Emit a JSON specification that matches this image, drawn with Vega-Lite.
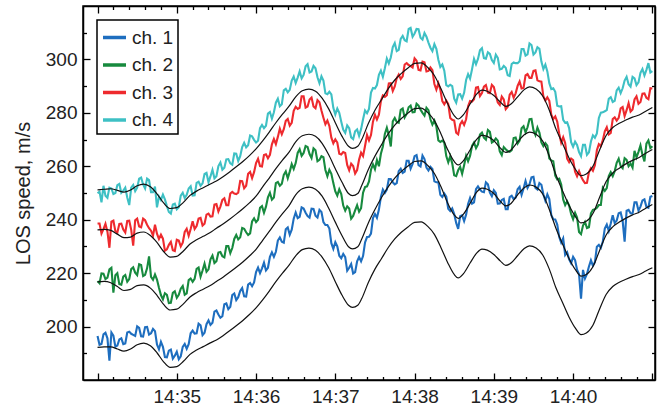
{
"$schema": "https://vega.github.io/schema/vega-lite/v6.json",
"width": 572, "height": 374,
"autosize": {"type": "none"},
"padding": {"left": 83, "top": 6, "right": 2, "bottom": 27},
"config": {
  "view": {"stroke": "black", "strokeWidth": 1.5},
  "font": "Liberation Sans",
  "axis": {"domainColor": "black", "domainWidth": 1.5, "tickColor": "black", "tickWidth": 1.3, "labelColor": "#222", "labelFontSize": 19, "labelFont": "Liberation Sans", "grid": false, "titleFontWeight": "normal", "titleFont": "Liberation Sans", "titleColor": "#222", "labelOverlap": false, "labelFlush": false},
  "legend": {"strokeColor": "black", "strokeWidth": 1.5, "fillColor": "white"}
},
"datasets": {
"raw": [
{"t":0,"c1":196.5,"c2":217.0,"c3":238.6,"c4":249.9},
{"t":3,"c1":193.5,"c2":219.9,"c3":234.8,"c4":246.5},
{"t":6,"c1":197.7,"c2":217.8,"c3":238.5,"c4":249.0},
{"t":9,"c1":187.2,"c2":221.4,"c3":229.5,"c4":252.0},
{"t":12,"c1":196.6,"c2":212.7,"c3":239.7,"c4":249.6},
{"t":15,"c1":192.9,"c2":220.0,"c3":235.2,"c4":252.9},
{"t":18,"c1":195.6,"c2":215.7,"c3":238.5,"c4":250.1},
{"t":21,"c1":193.7,"c2":219.3,"c3":235.2,"c4":252.0},
{"t":24,"c1":198.1,"c2":217.8,"c3":239.6,"c4":245.5},
{"t":27,"c1":196.9,"c2":222.2,"c3":230.3,"c4":253.0},
{"t":30,"c1":200.1,"c2":219.3,"c3":240.4,"c4":252.0},
{"t":33,"c1":196.4,"c2":223.0,"c3":237.2,"c4":255.8},
{"t":36,"c1":199.8,"c2":219.4,"c3":239.8,"c4":251.7},
{"t":39,"c1":197.0,"c2":226.3,"c3":236.8,"c4":254.8},
{"t":42,"c1":199.1,"c2":217.5,"c3":234.0,"c4":250.3},
{"t":45,"c1":193.3,"c2":217.6,"c3":234.8,"c4":244.6},
{"t":48,"c1":194.3,"c2":211.8,"c3":234.4,"c4":247.4},
{"t":51,"c1":188.6,"c2":212.5,"c3":228.4,"c4":247.6},
{"t":54,"c1":191.0,"c2":208.8,"c3":230.6,"c4":242.9},
{"t":57,"c1":188.0,"c2":212.6,"c3":228.6,"c4":245.7},
{"t":60,"c1":190.6,"c2":210.8,"c3":232.5,"c4":243.9},
{"t":63,"c1":188.9,"c2":214.2,"c3":230.0,"c4":249.0},
{"t":66,"c1":193.5,"c2":211.9,"c3":235.4,"c4":248.1},
{"t":69,"c1":193.4,"c2":217.4,"c3":234.0,"c4":251.7},
{"t":72,"c1":198.5,"c2":216.8,"c3":239.4,"c4":249.0},
{"t":75,"c1":197.5,"c2":221.6,"c3":237.6,"c4":253.8},
{"t":78,"c1":200.5,"c2":218.7,"c3":240.7,"c4":252.7},
{"t":81,"c1":197.7,"c2":223.6,"c3":238.5,"c4":257.1},
{"t":84,"c1":202.3,"c2":221.4,"c3":242.3,"c4":254.0},
{"t":87,"c1":201.4,"c2":226.6,"c3":241.3,"c4":258.7},
{"t":90,"c1":206.0,"c2":224.5,"c3":245.9,"c4":256.3},
{"t":93,"c1":203.3,"c2":227.9,"c3":244.9,"c4":261.4},
{"t":96,"c1":208.4,"c2":225.9,"c3":248.0,"c4":259.5},
{"t":99,"c1":206.5,"c2":230.1,"c3":245.4,"c4":262.7},
{"t":102,"c1":211.8,"c2":229.4,"c3":250.4,"c4":260.6},
{"t":105,"c1":209.9,"c2":234.3,"c3":249.6,"c4":264.7},
{"t":108,"c1":213.3,"c2":233.4,"c3":254.5,"c4":263.8},
{"t":111,"c1":211.3,"c2":236.6,"c3":251.8,"c4":268.8},
{"t":114,"c1":215.7,"c2":234.3,"c3":257.2,"c4":267.9},
{"t":117,"c1":215.1,"c2":239.4,"c3":255.6,"c4":271.2},
{"t":120,"c1":220.4,"c2":239.1,"c3":261.2,"c4":268.9},
{"t":123,"c1":220.0,"c2":244.5,"c3":260.1,"c4":274.3},
{"t":126,"c1":223.9,"c2":242.6,"c3":264.2,"c4":274.3},
{"t":129,"c1":222.0,"c2":248.4,"c3":263.0,"c4":279.7},
{"t":132,"c1":227.8,"c2":247.5,"c3":268.2,"c4":277.8},
{"t":135,"c1":228.0,"c2":253.7,"c3":268.3,"c4":283.8},
{"t":138,"c1":233.4,"c2":252.7,"c3":274.1,"c4":282.5},
{"t":141,"c1":231.4,"c2":256.8,"c3":273.9,"c4":288.4},
{"t":144,"c1":237.1,"c2":255.5,"c3":277.7,"c4":287.7},
{"t":147,"c1":236.3,"c2":260.8,"c3":276.3,"c4":292.1},
{"t":150,"c1":242.7,"c2":261.2,"c3":282.3,"c4":291.2},
{"t":153,"c1":241.1,"c2":266.4,"c3":281.9,"c4":295.5},
{"t":156,"c1":244.2,"c2":265.0,"c3":286.2,"c4":294.2},
{"t":159,"c1":241.4,"c2":267.2,"c3":282.4,"c4":298.2},
{"t":162,"c1":244.1,"c2":263.1,"c3":285.7,"c4":295.5},
{"t":165,"c1":241.5,"c2":266.0,"c3":281.7,"c4":296.7},
{"t":168,"c1":243.7,"c2":262.4,"c3":284.0,"c4":291.1},
{"t":171,"c1":239.1,"c2":263.4,"c3":278.2,"c4":292.1},
{"t":174,"c1":238.0,"c2":256.3,"c3":277.1,"c4":287.0},
{"t":177,"c1":231.2,"c2":257.2,"c3":270.7,"c4":286.9},
{"t":180,"c1":231.6,"c2":250.6,"c3":270.1,"c4":279.4},
{"t":183,"c1":226.5,"c2":251.4,"c3":264.7,"c4":280.0},
{"t":186,"c1":227.2,"c2":245.3,"c3":265.3,"c4":273.7},
{"t":189,"c1":220.9,"c2":245.0,"c3":260.5,"c4":275.3},
{"t":192,"c1":223.4,"c2":240.4,"c3":261.0,"c4":270.8},
{"t":195,"c1":220.4,"c2":243.5,"c3":257.3,"c4":273.1},
{"t":198,"c1":226.0,"c2":243.0,"c3":262.5,"c4":271.4},
{"t":201,"c1":226.4,"c2":250.1,"c3":263.8,"c4":277.6},
{"t":204,"c1":233.5,"c2":252.5,"c3":271.7,"c4":279.9},
{"t":207,"c1":234.8,"c2":258.7,"c3":271.7,"c4":287.6},
{"t":210,"c1":242.1,"c2":258.9,"c3":279.3,"c4":289.1},
{"t":213,"c1":243.8,"c2":260.0,"c3":279.3,"c4":294.2},
{"t":216,"c1":251.3,"c2":267.4,"c3":286.5,"c4":293.5},
{"t":219,"c1":251.3,"c2":274.4,"c3":286.6,"c4":300.3},
{"t":222,"c1":255.2,"c2":267.4,"c3":291.1,"c4":300.7},
{"t":225,"c1":253.2,"c2":278.1,"c3":289.9,"c4":306.1},
{"t":228,"c1":258.2,"c2":276.3,"c3":294.3,"c4":303.6},
{"t":231,"c1":257.5,"c2":281.6,"c3":293.7,"c4":308.8},
{"t":234,"c1":262.1,"c2":279.6,"c3":298.6,"c4":306.8},
{"t":237,"c1":259.1,"c2":282.7,"c3":297.5,"c4":311.8},
{"t":240,"c1":263.8,"c2":280.3,"c3":300.4,"c4":309.7},
{"t":243,"c1":260.4,"c2":282.7,"c3":296.1,"c4":311.3},
{"t":246,"c1":264.0,"c2":280.0,"c3":299.2,"c4":307.4},
{"t":249,"c1":259.5,"c2":281.9,"c3":295.5,"c4":308.5},
{"t":252,"c1":259.8,"c2":277.6,"c3":297.0,"c4":304.4},
{"t":255,"c1":254.4,"c2":277.1,"c3":290.8,"c4":305.7},
{"t":258,"c1":254.0,"c2":269.7,"c3":291.1,"c4":299.9},
{"t":261,"c1":248.5,"c2":269.6,"c3":284.4,"c4":298.1},
{"t":264,"c1":248.6,"c2":263.8,"c3":284.6,"c4":290.4},
{"t":267,"c1":243.2,"c2":263.8,"c3":278.1,"c4":290.5},
{"t":270,"c1":242.1,"c2":256.6,"c3":277.1,"c4":285.3},
{"t":273,"c1":236.6,"c2":258.5,"c3":272.0,"c4":286.9},
{"t":276,"c1":241.7,"c2":257.2,"c3":276.9,"c4":285.3},
{"t":279,"c1":241.9,"c2":263.9,"c3":277.6,"c4":292.3},
{"t":282,"c1":248.1,"c2":263.9,"c3":284.4,"c4":292.8},
{"t":285,"c1":246.5,"c2":268.9,"c3":285.1,"c4":300.2},
{"t":288,"c1":252.5,"c2":268.2,"c3":289.7,"c4":300.2},
{"t":291,"c1":250.5,"c2":272.6,"c3":287.4,"c4":304.2},
{"t":294,"c1":254.0,"c2":270.0,"c3":290.4,"c4":300.3},
{"t":297,"c1":250.1,"c2":272.9,"c3":287.4,"c4":302.1},
{"t":300,"c1":251.0,"c2":269.4,"c3":289.7,"c4":298.7},
{"t":303,"c1":246.0,"c2":269.6,"c3":283.9,"c4":300.6},
{"t":306,"c1":247.4,"c2":264.2,"c3":286.1,"c4":296.5},
{"t":309,"c1":243.9,"c2":266.4,"c3":281.4,"c4":296.9},
{"t":312,"c1":248.5,"c2":265.4,"c3":286.8,"c4":293.8},
{"t":315,"c1":247.7,"c2":270.6,"c3":285.7,"c4":298.9},
{"t":318,"c1":251.4,"c2":268.5,"c3":290.1,"c4":298.6},
{"t":321,"c1":249.3,"c2":274.2,"c3":289.1,"c4":303.9},
{"t":324,"c1":254.5,"c2":272.7,"c3":294.0,"c4":301.4},
{"t":327,"c1":253.3,"c2":277.6,"c3":293.1,"c4":306.0},
{"t":330,"c1":256.1,"c2":273.5,"c3":295.7,"c4":301.8},
{"t":333,"c1":251.3,"c2":274.5,"c3":292.2,"c4":304.6},
{"t":336,"c1":253.1,"c2":268.9,"c3":291.7,"c4":299.2},
{"t":339,"c1":247.1,"c2":268.7,"c3":284.6,"c4":298.1},
{"t":342,"c1":247.7,"c2":262.9,"c3":284.5,"c4":291.1},
{"t":345,"c1":240.2,"c2":261.9,"c3":277.7,"c4":289.2},
{"t":348,"c1":238.2,"c2":255.1,"c3":276.7,"c4":282.7},
{"t":351,"c1":231.4,"c2":253.2,"c3":268.8,"c4":282.5},
{"t":354,"c1":226.8,"c2":245.5,"c3":268.7,"c4":276.3},
{"t":357,"c1":225.2,"c2":245.3,"c3":261.6,"c4":274.3},
{"t":360,"c1":226.1,"c2":240.2,"c3":262.3,"c4":267.3},
{"t":363,"c1":221.3,"c2":240.8,"c3":256.3,"c4":268.0},
{"t":366,"c1":210.4,"c2":234.6,"c3":256.2,"c4":263.8},
{"t":369,"c1":218.0,"c2":239.2,"c3":253.7,"c4":268.0},
{"t":372,"c1":222.5,"c2":237.2,"c3":257.8,"c4":265.2},
{"t":375,"c1":222.8,"c2":243.7,"c3":258.3,"c4":271.6},
{"t":378,"c1":229.9,"c2":244.5,"c3":266.0,"c4":272.3},
{"t":381,"c1":229.5,"c2":245.5,"c3":267.6,"c4":280.1},
{"t":384,"c1":236.7,"c2":250.8,"c3":273.1,"c4":280.6},
{"t":387,"c1":235.8,"c2":256.3,"c3":271.9,"c4":285.3},
{"t":390,"c1":241.7,"c2":256.3,"c3":277.7,"c4":284.1},
{"t":393,"c1":239.7,"c2":261.3,"c3":277.1,"c4":288.4},
{"t":396,"c1":242.7,"c2":260.1,"c3":281.7,"c4":287.4},
{"t":399,"c1":231.8,"c2":263.0,"c3":278.8,"c4":292.1},
{"t":402,"c1":243.7,"c2":260.0,"c3":283.6,"c4":290.7},
{"t":405,"c1":242.3,"c2":259.5,"c3":281.3,"c4":293.5},
{"t":408,"c1":246.5,"c2":263.3,"c3":286.2,"c4":290.4},
{"t":411,"c1":244.9,"c2":267.8,"c3":284.1,"c4":295.0},
{"t":414,"c1":247.6,"c2":261.8,"c3":287.3,"c4":294.0},
{"t":417,"c1":244.5,"c2":269.7,"c3":285.1,"c4":298.6},
{"t":420,"c1":248.9,"c2":267.5,"c3":289.1,"c4":295.6},
{"t":1.5,"c1":193.2,"c2":216.2,"c3":238.6,"c4":250.5},
{"t":4.5,"c1":197.1,"c2":219.8,"c3":236.5,"c4":252.7},
{"t":7.5,"c1":195.6,"c2":218.3,"c3":235.5,"c4":248.2},
{"t":10.5,"c1":197.8,"c2":222.0,"c3":239.3,"c4":251.7},
{"t":13.5,"c1":192.5,"c2":219.2,"c3":235.7,"c4":250.0},
{"t":16.5,"c1":195.2,"c2":215.9,"c3":238.4,"c4":253.4},
{"t":19.5,"c1":193.4,"c2":218.7,"c3":236.3,"c4":250.9},
{"t":22.5,"c1":197.8,"c2":216.8,"c3":239.5,"c4":248.3},
{"t":25.5,"c1":197.3,"c2":221.5,"c3":236.2,"c4":252.0},
{"t":28.5,"c1":196.5,"c2":220.2,"c3":239.8,"c4":250.7},
{"t":31.5,"c1":199.5,"c2":223.3,"c3":237.5,"c4":255.4},
{"t":34.5,"c1":196.3,"c2":218.9,"c3":240.4,"c4":253.2},
{"t":37.5,"c1":199.9,"c2":221.8,"c3":238.1,"c4":255.4},
{"t":40.5,"c1":197.5,"c2":218.6,"c3":235.9,"c4":250.3},
{"t":43.5,"c1":198.3,"c2":219.5,"c3":238.1,"c4":252.4},
{"t":46.5,"c1":191.5,"c2":214.5,"c3":232.8,"c4":248.7},
{"t":49.5,"c1":192.4,"c2":210.2,"c3":232.9,"c4":249.4},
{"t":52.5,"c1":188.5,"c2":211.9,"c3":228.9,"c4":245.1},
{"t":55.5,"c1":191.4,"c2":208.9,"c3":231.7,"c4":242.3},
{"t":58.5,"c1":189.1,"c2":213.2,"c3":228.3,"c4":246.0},
{"t":61.5,"c1":187.8,"c2":211.9,"c3":232.2,"c4":244.7},
{"t":64.5,"c1":192.4,"c2":215.2,"c3":231.4,"c4":250.1},
{"t":67.5,"c1":191.7,"c2":212.4,"c3":236.6,"c4":249.3},
{"t":70.5,"c1":197.5,"c2":218.0,"c3":236.5,"c4":252.5},
{"t":73.5,"c1":197.4,"c2":217.9,"c3":236.5,"c4":249.1},
{"t":76.5,"c1":201.1,"c2":222.1,"c3":240.4,"c4":254.2},
{"t":79.5,"c1":196.8,"c2":221.0,"c3":237.8,"c4":253.6},
{"t":82.5,"c1":200.9,"c2":220.5,"c3":241.9,"c4":257.5},
{"t":85.5,"c1":200.6,"c2":225.2,"c3":241.2,"c4":256.2},
{"t":88.5,"c1":205.6,"c2":223.8,"c3":245.7,"c4":255.5},
{"t":91.5,"c1":204.5,"c2":227.7,"c3":243.1,"c4":260.1},
{"t":94.5,"c1":203.9,"c2":226.3,"c3":247.4,"c4":258.7},
{"t":97.5,"c1":208.7,"c2":230.1,"c3":245.4,"c4":262.6},
{"t":100.5,"c1":207.4,"c2":227.5,"c3":249.8,"c4":261.1},
{"t":103.5,"c1":212.4,"c2":232.8,"c3":249.8,"c4":264.8},
{"t":106.5,"c1":211.0,"c2":232.6,"c3":250.1,"c4":262.0},
{"t":109.5,"c1":214.4,"c2":236.9,"c3":254.4,"c4":267.2},
{"t":112.5,"c1":211.2,"c2":235.3,"c3":252.7,"c4":267.1},
{"t":115.5,"c1":216.3,"c2":234.9,"c3":257.9,"c4":271.5},
{"t":118.5,"c1":216.5,"c2":240.5,"c3":257.8,"c4":269.9},
{"t":121.5,"c1":222.1,"c2":240.0,"c3":262.8,"c4":269.6},
{"t":124.5,"c1":221.8,"c2":245.1,"c3":259.9,"c4":275.5},
{"t":127.5,"c1":221.0,"c2":244.9,"c3":264.5,"c4":275.2},
{"t":130.5,"c1":226.1,"c2":250.1,"c3":264.3,"c4":280.3},
{"t":133.5,"c1":226.1,"c2":248.3,"c3":270.2,"c4":280.2},
{"t":136.5,"c1":232.2,"c2":254.1,"c3":271.0,"c4":285.3},
{"t":139.5,"c1":231.8,"c2":253.5,"c3":272.0,"c4":283.2},
{"t":142.5,"c1":236.4,"c2":258.1,"c3":277.0,"c4":289.0},
{"t":145.5,"c1":234.4,"c2":258.0,"c3":275.2,"c4":288.6},
{"t":148.5,"c1":240.4,"c2":259.0,"c3":280.8,"c4":293.6},
{"t":151.5,"c1":240.6,"c2":265.0,"c3":281.5,"c4":293.2},
{"t":154.5,"c1":244.6,"c2":263.9,"c3":286.2,"c4":292.9},
{"t":157.5,"c1":242.6,"c2":267.6,"c3":282.0,"c4":297.4},
{"t":160.5,"c1":240.8,"c2":264.6,"c3":285.0,"c4":295.1},
{"t":163.5,"c1":244.0,"c2":266.7,"c3":282.4,"c4":297.6},
{"t":166.5,"c1":240.8,"c2":261.9,"c3":284.8,"c4":293.3},
{"t":169.5,"c1":242.9,"c2":263.8,"c3":280.9,"c4":293.7},
{"t":172.5,"c1":238.0,"c2":258.6,"c3":275.7,"c4":287.3},
{"t":175.5,"c1":236.7,"c2":258.7,"c3":275.1,"c4":287.9},
{"t":178.5,"c1":229.1,"c2":253.7,"c3":268.6,"c4":281.9},
{"t":181.5,"c1":230.0,"c2":249.0,"c3":268.9,"c4":281.6},
{"t":184.5,"c1":225.6,"c2":249.6,"c3":264.4,"c4":276.7},
{"t":187.5,"c1":226.0,"c2":243.4,"c3":265.0,"c4":272.5},
{"t":190.5,"c1":222.0,"c2":244.2,"c3":258.5,"c4":274.3},
{"t":193.5,"c1":219.9,"c2":241.4,"c3":260.1,"c4":270.2},
{"t":196.5,"c1":224.4,"c2":245.4,"c3":258.6,"c4":273.8},
{"t":199.5,"c1":224.4,"c2":244.3,"c3":265.1,"c4":273.9},
{"t":202.5,"c1":231.5,"c2":252.2,"c3":267.6,"c4":280.9},
{"t":205.5,"c1":233.6,"c2":254.3,"c3":269.7,"c4":281.5},
{"t":208.5,"c1":240.6,"c2":260.7,"c3":276.7,"c4":289.3},
{"t":211.5,"c1":240.7,"c2":262.3,"c3":277.5,"c4":290.4},
{"t":214.5,"c1":248.5,"c2":264.7,"c3":284.4,"c4":295.8},
{"t":217.5,"c1":250.0,"c2":272.1,"c3":286.0,"c4":296.7},
{"t":220.5,"c1":255.2,"c2":271.6,"c3":291.0,"c4":298.5},
{"t":223.5,"c1":254.0,"c2":276.8,"c3":288.2,"c4":304.6},
{"t":226.5,"c1":253.7,"c2":276.6,"c3":293.0,"c4":303.1},
{"t":229.5,"c1":259.1,"c2":281.1,"c3":292.7,"c4":307.7},
{"t":232.5,"c1":258.0,"c2":278.3,"c3":298.1,"c4":307.2},
{"t":235.5,"c1":262.1,"c2":282.1,"c3":297.9,"c4":311.4},
{"t":238.5,"c1":260.9,"c2":280.2,"c3":297.0,"c4":308.5},
{"t":241.5,"c1":264.2,"c2":283.4,"c3":299.5,"c4":311.4},
{"t":244.5,"c1":259.9,"c2":281.2,"c3":295.9,"c4":308.1},
{"t":247.5,"c1":262.7,"c2":279.0,"c3":298.9,"c4":309.9},
{"t":250.5,"c1":258.4,"c2":281.0,"c3":295.7,"c4":306.3},
{"t":253.5,"c1":259.0,"c2":275.6,"c3":296.0,"c4":303.1},
{"t":256.5,"c1":254.0,"c2":274.9,"c3":288.7,"c4":304.0},
{"t":259.5,"c1":249.3,"c2":269.1,"c3":288.7,"c4":297.2},
{"t":262.5,"c1":249.8,"c2":268.8,"c3":283.2,"c4":295.8},
{"t":265.5,"c1":244.1,"c2":261.5,"c3":283.3,"c4":289.9},
{"t":268.5,"c1":244.2,"c2":261.1,"c3":277.4,"c4":290.0},
{"t":271.5,"c1":238.8,"c2":256.3,"c3":272.6,"c4":283.8},
{"t":274.5,"c1":241.3,"c2":259.8,"c3":275.7,"c4":287.0},
{"t":277.5,"c1":239.5,"c2":260.4,"c3":275.5,"c4":287.5},
{"t":280.5,"c1":245.9,"c2":261.9,"c3":282.5,"c4":294.5},
{"t":283.5,"c1":246.0,"c2":267.6,"c3":284.2,"c4":296.3},
{"t":286.5,"c1":251.4,"c2":266.8,"c3":289.5,"c4":298.2},
{"t":289.5,"c1":251.3,"c2":271.9,"c3":286.3,"c4":303.4},
{"t":292.5,"c1":250.3,"c2":270.7,"c3":289.8,"c4":300.5},
{"t":295.5,"c1":253.3,"c2":273.6,"c3":287.6,"c4":302.7},
{"t":298.5,"c1":248.8,"c2":268.9,"c3":290.5,"c4":299.8},
{"t":301.5,"c1":250.0,"c2":270.4,"c3":286.6,"c4":301.8},
{"t":304.5,"c1":246.1,"c2":265.6,"c3":283.0,"c4":296.3},
{"t":307.5,"c1":247.8,"c2":267.2,"c3":285.0,"c4":297.6},
{"t":310.5,"c1":243.9,"c2":265.7,"c3":282.3,"c4":294.1},
{"t":313.5,"c1":249.0,"c2":266.0,"c3":287.8,"c4":298.3},
{"t":316.5,"c1":248.3,"c2":270.8,"c3":287.3,"c4":298.6},
{"t":319.5,"c1":252.3,"c2":269.6,"c3":291.7,"c4":299.3},
{"t":322.5,"c1":251.7,"c2":275.0,"c3":289.3,"c4":303.9},
{"t":325.5,"c1":251.9,"c2":274.6,"c3":294.5,"c4":301.9},
{"t":328.5,"c1":255.9,"c2":277.7,"c3":293.1,"c4":305.4},
{"t":331.5,"c1":251.9,"c2":271.7,"c3":295.9,"c4":302.6},
{"t":334.5,"c1":253.7,"c2":272.6,"c3":291.8,"c4":304.0},
{"t":337.5,"c1":249.5,"c2":267.5,"c3":286.2,"c4":296.4},
{"t":340.5,"c1":249.5,"c2":267.7,"c3":285.8,"c4":295.5},
{"t":343.5,"c1":241.7,"c2":262.2,"c3":279.3,"c4":288.9},
{"t":346.5,"c1":240.1,"c2":256.5,"c3":278.7,"c4":287.9},
{"t":349.5,"c1":233.5,"c2":255.4,"c3":272.2,"c4":282.4},
{"t":352.5,"c1":233.0,"c2":247.6,"c3":270.9,"c4":277.4},
{"t":355.5,"c1":227.8,"c2":246.9,"c3":262.9,"c4":276.5},
{"t":358.5,"c1":223.7,"c2":242.2,"c3":262.9,"c4":269.0},
{"t":361.5,"c1":224.9,"c2":242.6,"c3":258.0,"c4":269.2},
{"t":364.5,"c1":219.6,"c2":235.4,"c3":258.2,"c4":265.3},
{"t":367.5,"c1":221.2,"c2":237.8,"c3":254.8,"c4":268.0},
{"t":370.5,"c1":219.7,"c2":236.9,"c3":253.8,"c4":264.3},
{"t":373.5,"c1":224.8,"c2":242.4,"c3":259.3,"c4":269.3},
{"t":376.5,"c1":224.1,"c2":243.9,"c3":260.4,"c4":270.7},
{"t":379.5,"c1":230.6,"c2":245.5,"c3":268.3,"c4":278.1},
{"t":382.5,"c1":231.8,"c2":251.9,"c3":269.8,"c4":280.2},
{"t":385.5,"c1":238.2,"c2":251.8,"c3":274.6,"c4":281.0},
{"t":388.5,"c1":238.6,"c2":257.8,"c3":272.5,"c4":285.9},
{"t":391.5,"c1":238.7,"c2":258.2,"c3":278.3,"c4":284.5},
{"t":394.5,"c1":242.4,"c2":262.8,"c3":278.1,"c4":289.4},
{"t":397.5,"c1":239.6,"c2":259.3,"c3":282.2,"c4":289.2},
{"t":400.5,"c1":243.4,"c2":262.4,"c3":281.0,"c4":293.5},
{"t":403.5,"c1":242.4,"c2":261.0,"c3":280.5,"c4":289.8},
{"t":406.5,"c1":246.5,"c2":265.8,"c3":285.0,"c4":292.9},
{"t":409.5,"c1":243.4,"c2":265.4,"c3":283.4,"c4":291.4},
{"t":412.5,"c1":247.2,"c2":264.3,"c3":287.2,"c4":296.4},
{"t":415.5,"c1":244.8,"c2":268.5,"c3":285.6,"c4":296.1},
{"t":418.5,"c1":248.6,"c2":266.8,"c3":289.2,"c4":295.1}
],
"fit": [
{"t":0,"f1":192.2,"f2":216.7,"f3":236.2,"f4":251.2},
{"t":5,"f1":192.4,"f2":216.9,"f3":236.4,"f4":251.4},
{"t":10,"f1":192.4,"f2":216.4,"f3":236.0,"f4":251.6},
{"t":15,"f1":191.6,"f2":215.0,"f3":234.6,"f4":251.0},
{"t":20,"f1":190.8,"f2":213.5,"f3":233.3,"f4":250.3},
{"t":25,"f1":191.6,"f2":213.9,"f3":233.5,"f4":251.1},
{"t":30,"f1":193.2,"f2":215.3,"f3":235.0,"f4":252.7},
{"t":35,"f1":193.8,"f2":215.6,"f3":235.4,"f4":253.3},
{"t":40,"f1":192.8,"f2":214.4,"f3":234.1,"f4":252.3},
{"t":45,"f1":190.2,"f2":211.7,"f3":231.5,"f4":249.7},
{"t":50,"f1":186.8,"f2":208.3,"f3":228.1,"f4":246.3},
{"t":55,"f1":184.7,"f2":206.2,"f3":226.0,"f4":244.2},
{"t":60,"f1":185.0,"f2":206.5,"f3":226.3,"f4":244.5},
{"t":65,"f1":187.0,"f2":208.5,"f3":228.3,"f4":246.5},
{"t":70,"f1":189.6,"f2":211.1,"f3":230.9,"f4":249.1},
{"t":75,"f1":191.2,"f2":212.7,"f3":232.5,"f4":250.7},
{"t":80,"f1":192.5,"f2":214.0,"f3":233.8,"f4":252.0},
{"t":85,"f1":193.8,"f2":215.3,"f3":235.1,"f4":253.3},
{"t":90,"f1":195.0,"f2":216.9,"f3":236.8,"f4":254.5},
{"t":95,"f1":196.6,"f2":218.5,"f3":238.4,"f4":256.1},
{"t":100,"f1":198.4,"f2":220.3,"f3":240.2,"f4":257.9},
{"t":105,"f1":200.3,"f2":222.2,"f3":242.1,"f4":259.8},
{"t":110,"f1":202.3,"f2":224.2,"f3":244.1,"f4":261.8},
{"t":115,"f1":204.5,"f2":226.4,"f3":246.3,"f4":264.0},
{"t":120,"f1":207.0,"f2":228.9,"f3":248.8,"f4":266.5},
{"t":125,"f1":210.0,"f2":232.3,"f3":252.3,"f4":269.5},
{"t":130,"f1":213.3,"f2":235.6,"f3":255.6,"f4":272.8},
{"t":135,"f1":216.8,"f2":239.1,"f3":259.1,"f4":276.3},
{"t":140,"f1":220.0,"f2":242.3,"f3":262.3,"f4":279.5},
{"t":145,"f1":223.0,"f2":245.3,"f3":265.3,"f4":282.5},
{"t":150,"f1":226.5,"f2":249.3,"f3":269.1,"f4":286.0},
{"t":155,"f1":228.8,"f2":251.6,"f3":271.4,"f4":288.3},
{"t":160,"f1":229.4,"f2":252.2,"f3":272.0,"f4":288.9},
{"t":165,"f1":228.6,"f2":251.4,"f3":271.2,"f4":288.1},
{"t":170,"f1":226.0,"f2":248.8,"f3":268.6,"f4":285.5},
{"t":175,"f1":222.0,"f2":244.3,"f3":264.3,"f4":281.5},
{"t":180,"f1":216.8,"f2":239.1,"f3":259.1,"f4":276.3},
{"t":185,"f1":211.8,"f2":234.1,"f3":254.1,"f4":271.3},
{"t":190,"f1":208.0,"f2":229.9,"f3":249.8,"f4":267.5},
{"t":193,"f1":207.2,"f2":229.1,"f3":249.0,"f4":266.7},
{"t":197,"f1":208.0,"f2":229.9,"f3":249.8,"f4":267.5},
{"t":200,"f1":210.5,"f2":232.8,"f3":252.8,"f4":270.0},
{"t":205,"f1":216.5,"f2":238.8,"f3":258.8,"f4":276.0},
{"t":210,"f1":221.5,"f2":243.8,"f3":263.8,"f4":281.0},
{"t":215,"f1":225.5,"f2":248.3,"f3":268.1,"f4":285.0},
{"t":220,"f1":229.5,"f2":252.3,"f3":272.1,"f4":289.0},
{"t":225,"f1":232.8,"f2":255.6,"f3":275.4,"f4":292.3},
{"t":230,"f1":235.3,"f2":258.1,"f3":277.9,"f4":294.8},
{"t":235,"f1":237.3,"f2":260.1,"f3":279.9,"f4":296.8},
{"t":240,"f1":239.0,"f2":261.8,"f3":281.6,"f4":298.5},
{"t":245,"f1":239.2,"f2":262.0,"f3":281.8,"f4":298.7},
{"t":250,"f1":237.5,"f2":260.3,"f3":280.1,"f4":297.0},
{"t":255,"f1":234.5,"f2":257.3,"f3":277.1,"f4":294.0},
{"t":260,"f1":229.5,"f2":252.3,"f3":272.1,"f4":289.0},
{"t":265,"f1":224.0,"f2":246.3,"f3":266.3,"f4":283.5},
{"t":270,"f1":219.5,"f2":241.8,"f3":261.8,"f4":279.0},
{"t":273,"f1":218.2,"f2":240.5,"f3":260.5,"f4":277.7},
{"t":277,"f1":219.8,"f2":242.1,"f3":262.1,"f4":279.3},
{"t":282,"f1":223.8,"f2":246.1,"f3":266.1,"f4":283.3},
{"t":287,"f1":227.5,"f2":250.3,"f3":270.1,"f4":287.0},
{"t":291,"f1":229.0,"f2":251.8,"f3":271.6,"f4":288.5},
{"t":295,"f1":228.6,"f2":251.4,"f3":271.2,"f4":288.1},
{"t":300,"f1":227.0,"f2":249.8,"f3":269.6,"f4":286.5},
{"t":305,"f1":224.5,"f2":246.8,"f3":266.8,"f4":284.0},
{"t":309,"f1":222.9,"f2":245.2,"f3":265.2,"f4":282.4},
{"t":313,"f1":223.8,"f2":246.1,"f3":266.1,"f4":283.3},
{"t":318,"f1":226.5,"f2":249.3,"f3":269.1,"f4":286.0},
{"t":323,"f1":229.2,"f2":252.0,"f3":271.8,"f4":288.7},
{"t":327,"f1":230.2,"f2":253.0,"f3":272.8,"f4":289.7},
{"t":332,"f1":229.4,"f2":252.2,"f3":272.0,"f4":288.9},
{"t":337,"f1":226.8,"f2":249.6,"f3":269.4,"f4":286.3},
{"t":342,"f1":221.5,"f2":243.8,"f3":263.8,"f4":281.0},
{"t":347,"f1":214.5,"f2":236.8,"f3":256.8,"f4":274.0},
{"t":352,"f1":209.0,"f2":230.9,"f3":250.8,"f4":268.5},
{"t":357,"f1":203.5,"f2":225.4,"f3":245.3,"f4":263.0},
{"t":362,"f1":199.2,"f2":221.1,"f3":241.0,"f4":258.7},
{"t":366,"f1":197.0,"f2":218.9,"f3":238.8,"f4":256.5},
{"t":370,"f1":197.6,"f2":219.5,"f3":239.4,"f4":257.1},
{"t":375,"f1":200.5,"f2":222.4,"f3":242.3,"f4":260.0},
{"t":380,"f1":206.5,"f2":228.4,"f3":248.3,"f4":266.0},
{"t":385,"f1":212.0,"f2":234.3,"f3":254.3,"f4":271.5},
{"t":390,"f1":215.0,"f2":237.3,"f3":257.5,"f4":274.5},
{"t":395,"f1":216.6,"f2":239.1,"f3":259.3,"f4":276.1},
{"t":400,"f1":217.7,"f2":240.6,"f3":260.9,"f4":277.3},
{"t":405,"f1":218.7,"f2":241.8,"f3":262.2,"f4":278.4},
{"t":410,"f1":219.5,"f2":242.8,"f3":263.3,"f4":279.2},
{"t":415,"f1":220.8,"f2":244.3,"f3":264.9,"f4":280.6},
{"t":420,"f1":222.0,"f2":245.7,"f3":266.3,"f4":282.0}
]
},
"layer": [
{
  "data": {"name": "raw"},
  "transform": [{"fold": ["c1", "c2", "c3", "c4"], "as": ["ch", "v"]}],
  "mark": {"type": "line", "strokeWidth": 2.1},
  "encoding": {
    "x": {"field": "t", "type": "quantitative",
      "scale": {"domain": [-11, 422], "nice": false, "zero": false},
      "axis": {"orient": "bottom", "title": null, "tickSize": -7, "labelPadding": 14,
        "values": [0,60,120,180,240,300,360,420],
        "labelExpr": "datum.value >= 60 && datum.value <= 360 ? '14:' + (34 + datum.value / 60) : ''"}},
    "y": {"field": "v", "type": "quantitative",
      "scale": {"domain": [180, 320], "nice": false, "zero": false},
      "axis": {"orient": "left", "title": "LOS speed, m/s", "titleFontSize": 20, "titlePadding": 12,
        "tickSize": -7, "labelPadding": 13, "values": [200,220,240,260,280,300]}},
    "color": {"field": "ch", "type": "nominal",
      "scale": {"domain": ["c1", "c2", "c3", "c4"], "range": ["#1e6ebf", "#178a3e", "#ee2a2e", "#3ec0c4"]},
      "legend": {"orient": "top-left", "offset": 14, "title": null, "padding": 4,
        "labelExpr": "'ch. ' + substring(datum.label, 1)",
        "labelFontSize": 19, "labelColor": "#222", "labelFont": "Liberation Sans", "labelOffset": 4,
        "symbolType": "stroke", "symbolSize": 529, "symbolStrokeWidth": 3.5, "rowPadding": 3.5}}
  }
},
{
  "data": {"name": "fit"},
  "transform": [{"fold": ["f1", "f2", "f3", "f4"], "as": ["k", "v"]}],
  "mark": {"type": "line", "color": "#111", "strokeWidth": 1.2, "interpolate": "monotone"},
  "encoding": {
    "x": {"field": "t", "type": "quantitative",
      "axis": {"orient": "top", "title": null, "labels": false, "tickSize": -7, "values": [0,60,120,180,240,300,360,420]}},
    "y": {"field": "v", "type": "quantitative",
      "axis": {"orient": "right", "title": null, "labels": false, "tickSize": -7, "values": [200,220,240,260,280,300]}},
    "detail": {"field": "k", "type": "nominal"}
  }
},
{
  "data": {"name": "fit"},
  "mark": {"type": "line", "opacity": 0},
  "encoding": {
    "x": {"field": "t", "type": "quantitative",
      "axis": {"orient": "bottom", "title": null, "labels": false, "domain": false, "tickSize": -3.5,
        "values": [12,24,36,48,72,84,96,108,132,144,156,168,192,204,216,228,252,264,276,288,312,324,336,348,372,384,396,408]}},
    "y": {"field": "f1", "type": "quantitative",
      "axis": {"orient": "left", "title": null, "labels": false, "domain": false, "tickSize": -3.5,
        "values": [190,210,230,250,270,290,310]}}
  }
},
{
  "data": {"name": "fit"},
  "mark": {"type": "line", "opacity": 0},
  "encoding": {
    "x": {"field": "t", "type": "quantitative",
      "axis": {"orient": "top", "title": null, "labels": false, "domain": false, "tickSize": -3.5,
        "values": [12,24,36,48,72,84,96,108,132,144,156,168,192,204,216,228,252,264,276,288,312,324,336,348,372,384,396,408]}},
    "y": {"field": "f1", "type": "quantitative",
      "axis": {"orient": "right", "title": null, "labels": false, "domain": false, "tickSize": -3.5,
        "values": [190,210,230,250,270,290,310]}}
  }
}
],
"resolve": {"axis": {"x": "independent", "y": "independent"}}
}
